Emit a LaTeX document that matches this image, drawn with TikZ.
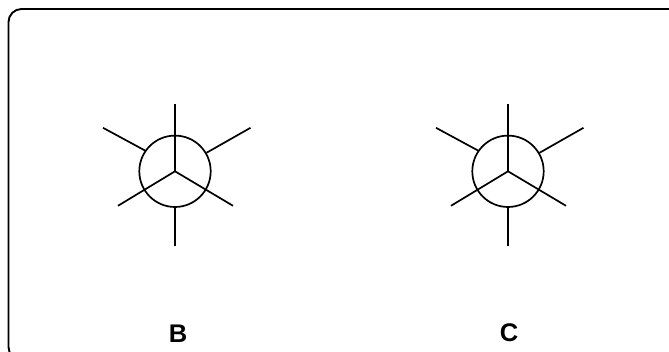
\documentclass[tikz,border=0pt]{standalone}
\usepackage{fontspec}
\setmainfont{Liberation Sans}
\tikzset{
  bond/.style={line width=1.7pt,black},
  frameline/.style={line width=1.9pt,black,rounded corners=13pt},
  lab/.style={font=\fontsize{25.5}{25.5}\selectfont\bfseries,text=black,inner sep=0pt,anchor=center},
  newman/.pic={
    \coordinate (-o) at (0,0);
    \draw[bond] (0,0) circle (35.7);
    \draw[bond] (0,67.5) -- (-o);
    \draw[bond] (-57,-34.5) -- (-o);
    \draw[bond] (58,-34.5) -- (-o);
    \draw[bond] (-72,43.5) -- (-29.5,20.5);
    \draw[bond] (75.5,43.5) -- (31.5,18.5);
    \draw[bond] (0,-74.7) -- (0,-36);
  }
}
\begin{document}
\begin{tikzpicture}[x=1pt,y=1pt]
\useasboundingbox (0,0) rectangle (669,352);
\begin{scope}
\clip (0,0) rectangle (669,352);
\draw[frameline] (8.5,-8) rectangle (700,343);
\end{scope}
\pic (b) at (175,180.7) {newman};
\pic (c) at (508,180.7) {newman};
\node[lab] (lb) at (178,18) {B};
\node[lab] (lc) at (509,19.5) {C};
\end{tikzpicture}
\end{document}
